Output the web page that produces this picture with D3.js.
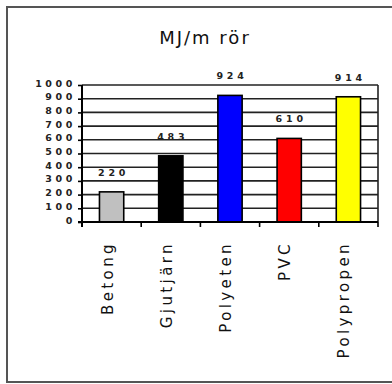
<!DOCTYPE html>
<html>
<head>
  <meta charset="utf-8">
  <script src="https://d3js.org/d3.v7.min.js"></script>
  <style>
    body { margin: 0; background: #fff; }
  </style>
</head>
<body>
  <svg id="chart"></svg>
  <script>
    // Data
    const categories = ["Betong", "Gjutjärn", "Polyeten", "PVC", "Polypropen"];
    const values = [220, 483, 924, 610, 914];
    const colors = ["#c0c0c0", "#000000", "#0000ff", "#ff0000", "#ffff00"];
    const yTicks = [0, 100, 200, 300, 400, 500, 600, 700, 800, 900, 1000];

    const W = 392, H = 384;
    const svg = d3.select("#chart").attr("width", W).attr("height", H);

    // ram
    svg.append("rect")
       .attr("x", 7).attr("y", 7)
       .attr("width", W).attr("height", 375)
       .attr("fill", "#fff")
       .attr("stroke", "#555").attr("stroke-width", 2);

    svg.append("text")
       .attr("x", 205).attr("y", 44)
       .attr("text-anchor", "middle")
       .attr("font-family", "DejaVu Sans")
       .attr("font-size", 18)
       .attr("letter-spacing", 2)
       .attr("fill", "#111")
       .text("MJ/m rör");

    const pL = 82, pR = 378, pT = 85, pB = 222;

    const x = d3.scaleBand().domain(categories).range([pL, pR]).paddingInner(0.59).paddingOuter(0.295);
    const y = d3.scaleLinear().domain([0, 1000]).range([pB, pT]);

    // rutnät
    svg.selectAll("line.grid")
       .data(yTicks)
       .enter()
       .append("line")
       .attr("x1", pL).attr("x2", pR)
       .attr("y1", d => y(d)).attr("y2", d => y(d))
       .attr("stroke", "#222").attr("stroke-width", 1.6);

    svg.append("line")
       .attr("x1", pR).attr("x2", pR)
       .attr("y1", pT).attr("y2", pB)
       .attr("stroke", "#222").attr("stroke-width", 1.6);

    // staplar
    svg.selectAll("rect.bar")
       .data(values)
       .enter()
       .append("rect")
       .attr("x", (d, i) => x(categories[i]))
       .attr("y", d => y(d))
       .attr("width", x.bandwidth())
       .attr("height", d => pB - y(d))
       .attr("fill", (d, i) => colors[i])
       .attr("stroke", "#000").attr("stroke-width", 1.6);

    // värden
    svg.selectAll("text.val")
       .data(values)
       .enter()
       .append("text")
       .attr("x", (d, i) => x(categories[i]) + x.bandwidth() / 2 + 2)
       .attr("y", d => y(d) - 16)
       .attr("text-anchor", "middle")
       .attr("font-family", "DejaVu Sans")
       .attr("font-weight", "bold")
       .attr("font-size", 9.5)
       .attr("letter-spacing", 3.8)
       .attr("fill", "#222")
       .text(d => d);

    // y-axel
    const yAxis = svg.append("g")
       .attr("transform", `translate(${pL},0)`)
       .call(d3.axisLeft(y).tickValues(yTicks).tickSize(4).tickPadding(2).tickFormat(d3.format("d")));
    yAxis.select(".domain").attr("stroke", "#000").attr("stroke-width", 2).attr("d", `M0,${pT}V${pB + 5}`);
    yAxis.selectAll(".tick line").attr("stroke", "#000").attr("stroke-width", 1.6);
    yAxis.selectAll(".tick text")
         .attr("y", -2)
         .attr("font-family", "DejaVu Sans")
         .attr("font-weight", "bold")
         .attr("font-size", 9.5)
         .attr("letter-spacing", 3.6)
         .attr("fill", "#222");

    // x-axel
    const bounds = categories.map(c => x(c) - x.step() * x.paddingInner() / 2).concat([pR]);
    svg.append("line")
       .attr("x1", pL - 4).attr("x2", pR)
       .attr("y1", pB).attr("y2", pB)
       .attr("stroke", "#000").attr("stroke-width", 2);
    svg.selectAll("line.xtick")
       .data(bounds)
       .enter()
       .append("line")
       .attr("x1", d => d).attr("x2", d => d)
       .attr("y1", pB).attr("y2", pB + 5)
       .attr("stroke", "#000").attr("stroke-width", 1.6);

    svg.selectAll("text.cat")
       .data(categories)
       .enter()
       .append("text")
       .attr("transform", d => `translate(${x(d) + x.bandwidth() / 2 + 1},241) rotate(-90)`)
       .attr("text-anchor", "end")
       .attr("font-family", "DejaVu Sans")
       .attr("font-size", 15)
       .attr("letter-spacing", 3.4)
       .attr("fill", "#111")
       .text(d => d);
  </script>
</body>
</html>
